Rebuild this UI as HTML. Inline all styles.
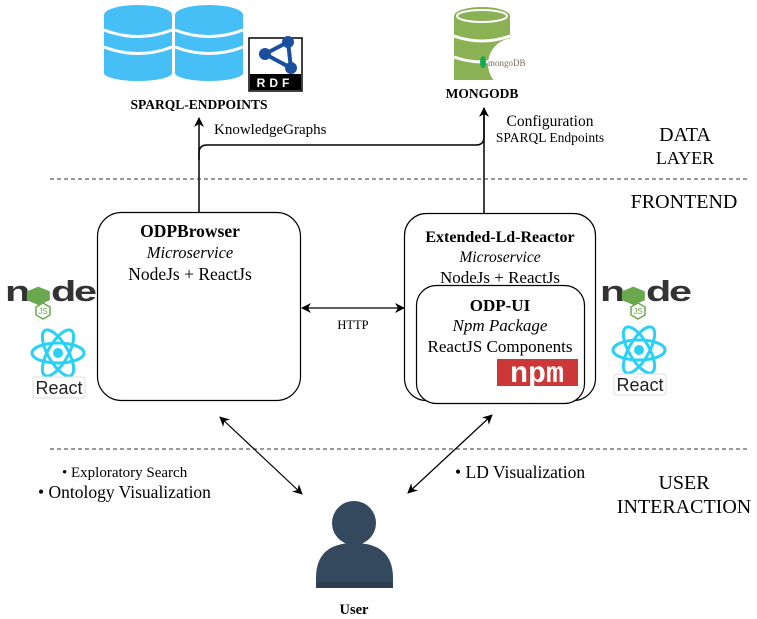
<!DOCTYPE html>
<html><head><style>body{margin:0;background:#fff}svg{display:block}</style></head><body>
<svg width="757" height="619" viewBox="0 0 757 619" xmlns="http://www.w3.org/2000/svg" font-family="'Liberation Serif',serif">
<defs>
<marker id="ah" markerWidth="10" markerHeight="10" refX="9" refY="5" orient="auto-start-reverse" markerUnits="userSpaceOnUse">
<path d="M0,0 L10,5 L0,10 L3,5 z" fill="#000"/></marker>
<g id="node">
<g transform="translate(0,6) scale(1.15,0.8)">
<text x="0" y="30" font-family="'Liberation Sans',sans-serif" font-weight="bold" font-size="36" fill="#333" letter-spacing="-2">n</text>
<polygon points="29,12 39,18 39,29 29,35 19,29 19,18" fill="#6aa84f"/>
<text x="40" y="30" font-family="'Liberation Sans',sans-serif" font-weight="bold" font-size="36" fill="#333" letter-spacing="-2">de</text>
</g>
<polygon points="38,32 45,36 45,44 38,48 31,44 31,36" fill="none" stroke="#6aa84f" stroke-width="1.5"/>
<text x="38" y="43" font-family="'Liberation Sans',sans-serif" font-size="8" fill="#6aa84f" text-anchor="middle">JS</text>
</g>
<g id="react">
<ellipse cx="0" cy="0" rx="26" ry="10" fill="none" stroke="#2ad1f5" stroke-width="3"/>
<ellipse cx="0" cy="0" rx="26" ry="10" fill="none" stroke="#2ad1f5" stroke-width="3" transform="rotate(60)"/>
<ellipse cx="0" cy="0" rx="26" ry="10" fill="none" stroke="#2ad1f5" stroke-width="3" transform="rotate(-60)"/>
<circle r="5" fill="#2ad1f5"/>
<rect x="-25" y="24" width="52" height="21" rx="3" fill="#fff" stroke="#ddd"/>
<text x="1" y="41" font-family="'Liberation Sans',sans-serif" font-size="18" fill="#222" text-anchor="middle">React</text>
</g>
<g id="db">
<rect x="0" y="12" width="68" height="58" fill="#45bff6"/>
<ellipse cx="34" cy="70" rx="34" ry="8" fill="#45bff6"/>
<ellipse cx="34" cy="12" rx="34" ry="10" fill="#45bff6"/>
<path d="M0,27 Q34,40 68,27" stroke="#fff" stroke-width="3" fill="none"/>
<path d="M0,44 Q34,57 68,44" stroke="#fff" stroke-width="3" fill="none"/>
</g>
</defs>

<use href="#db" x="104" y="3"/>
<use href="#db" x="175" y="3"/>
<rect x="249" y="38" width="53" height="53" fill="#fff" stroke="#000" stroke-width="1.5"/>
<rect x="250" y="74" width="51" height="16" fill="#000"/>
<text x="275" y="87" font-family="'Liberation Sans',sans-serif" font-weight="bold" font-size="12" fill="#fff" text-anchor="middle" letter-spacing="4">RDF</text>
<path d="M265,54 L288,42 L291,68 Z" fill="none" stroke="#1a4fa0" stroke-width="4"/>
<circle cx="265" cy="54" r="6" fill="#1a4fa0"/><circle cx="288" cy="42" r="6" fill="#1a4fa0"/><circle cx="291" cy="68" r="6" fill="#1a4fa0"/>
<text x="199" y="109" font-weight="bold" font-size="13.5" text-anchor="middle">SPARQL-ENDPOINTS</text>

<rect x="454" y="16" width="56" height="64" fill="#8bb155"/>
<ellipse cx="482" cy="16" rx="28" ry="9" fill="#8bb155"/>
<ellipse cx="482" cy="16" rx="25" ry="6" fill="none" stroke="#fff" stroke-width="2"/>
<path d="M454,36 Q482,46 510,36" stroke="#fff" stroke-width="3" fill="none"/>
<path d="M454,57 Q482,67 510,57" stroke="#fff" stroke-width="3" fill="none"/>
<circle cx="514" cy="64" r="26" fill="#fff"/>
<ellipse cx="483" cy="62" rx="3" ry="6" fill="#13aa52"/>
<text x="488" y="66" font-size="9" fill="#7a6a55">mongoDB</text>
<text x="482" y="98" font-weight="bold" font-size="13.5" text-anchor="middle">MONGODB</text>

<path d="M199,212 L199,118" stroke="#000" stroke-width="1.5" fill="none" marker-end="url(#ah)"/>
<path d="M199,160 L199,153 Q199,145 207,145 L476,145 Q484,145 484,137 L484,108" stroke="#000" stroke-width="1.5" fill="none"/>
<path d="M484,213 L484,108" stroke="#000" stroke-width="1.5" fill="none" marker-end="url(#ah)"/>
<text x="214" y="134" font-size="15">KnowledgeGraphs</text>
<text x="550" y="126" font-size="15.5" text-anchor="middle">Configuration</text>
<text x="550" y="142" font-size="13.5" text-anchor="middle">SPARQL Endpoints</text>

<line x1="50" y1="179" x2="750" y2="179" stroke="#333" stroke-dasharray="4,3"/>
<line x1="50" y1="449" x2="750" y2="449" stroke="#333" stroke-dasharray="4,3"/>
<text x="685" y="141" font-size="20" text-anchor="middle">DATA</text>
<text x="685" y="164" font-size="18" text-anchor="middle">LAYER</text>
<text x="684" y="208" font-size="20" text-anchor="middle">FRONTEND</text>
<text x="684" y="489" font-size="20" text-anchor="middle">USER</text>
<text x="684" y="513" font-size="20" text-anchor="middle">INTERACTION</text>

<rect x="97.5" y="212.5" width="203" height="188" rx="24" fill="#fff" stroke="#000" stroke-width="1.2"/>
<text x="190" y="237" font-weight="bold" font-size="17.5" text-anchor="middle">ODPBrowser</text>
<text x="190" y="258" font-style="italic" font-size="16.5" text-anchor="middle">Microservice</text>
<text x="190" y="280" font-size="17.5" text-anchor="middle">NodeJs + ReactJs</text>

<rect x="404.5" y="213.5" width="191" height="187" rx="22" fill="#fff" stroke="#000" stroke-width="1.2"/>
<text x="500" y="242" font-weight="bold" font-size="16" text-anchor="middle">Extended-Ld-Reactor</text>
<text x="500" y="262" font-style="italic" font-size="15.5" text-anchor="middle">Microservice</text>
<text x="500" y="283" font-size="17" text-anchor="middle">NodeJs + ReactJs</text>
<rect x="416.5" y="285.5" width="168" height="118" rx="20" fill="#fff" stroke="#000" stroke-width="1.2"/>
<text x="500" y="311" font-weight="bold" font-size="17" text-anchor="middle">ODP-UI</text>
<text x="500" y="331" font-style="italic" font-size="17" text-anchor="middle">Npm Package</text>
<text x="500" y="352" font-size="17" text-anchor="middle">ReactJS Components</text>
<rect x="497" y="359" width="81" height="27" fill="#cb3837"/>
<text x="537" y="382" font-family="'Liberation Mono',monospace" font-weight="bold" font-size="30" fill="#fff" text-anchor="middle">npm</text>

<line x1="302" y1="308" x2="404" y2="308" stroke="#000" stroke-width="1.2" marker-start="url(#ah)" marker-end="url(#ah)"/>
<text x="353" y="329" font-size="12.5" text-anchor="middle">HTTP</text>

<use href="#node" x="5" y="271"/>
<use href="#react" x="58" y="353"/>
<use href="#node" x="600" y="271"/>
<use href="#react" x="639" y="350"/>

<line x1="220" y1="417" x2="302" y2="494" stroke="#000" stroke-width="1.2" marker-start="url(#ah)" marker-end="url(#ah)"/>
<line x1="492" y1="415" x2="408" y2="493" stroke="#000" stroke-width="1.2" marker-start="url(#ah)" marker-end="url(#ah)"/>
<text x="62" y="477" font-size="15">• Exploratory Search</text>
<text x="38" y="498" font-size="17.5">• Ontology Visualization</text>
<text x="455" y="478" font-size="17.5">• LD Visualization</text>

<circle cx="354" cy="523" r="22" fill="#34495e"/>
<path d="M316,588 L316,578 Q316,543 354,543 Q393,543 393,578 L393,588 Z" fill="#34495e"/>
<rect x="316" y="582" width="77" height="6" rx="3" fill="#2c3e50"/>
<text x="354" y="614" font-weight="bold" font-size="14.5" text-anchor="middle">User</text>
</svg>
</body></html>
